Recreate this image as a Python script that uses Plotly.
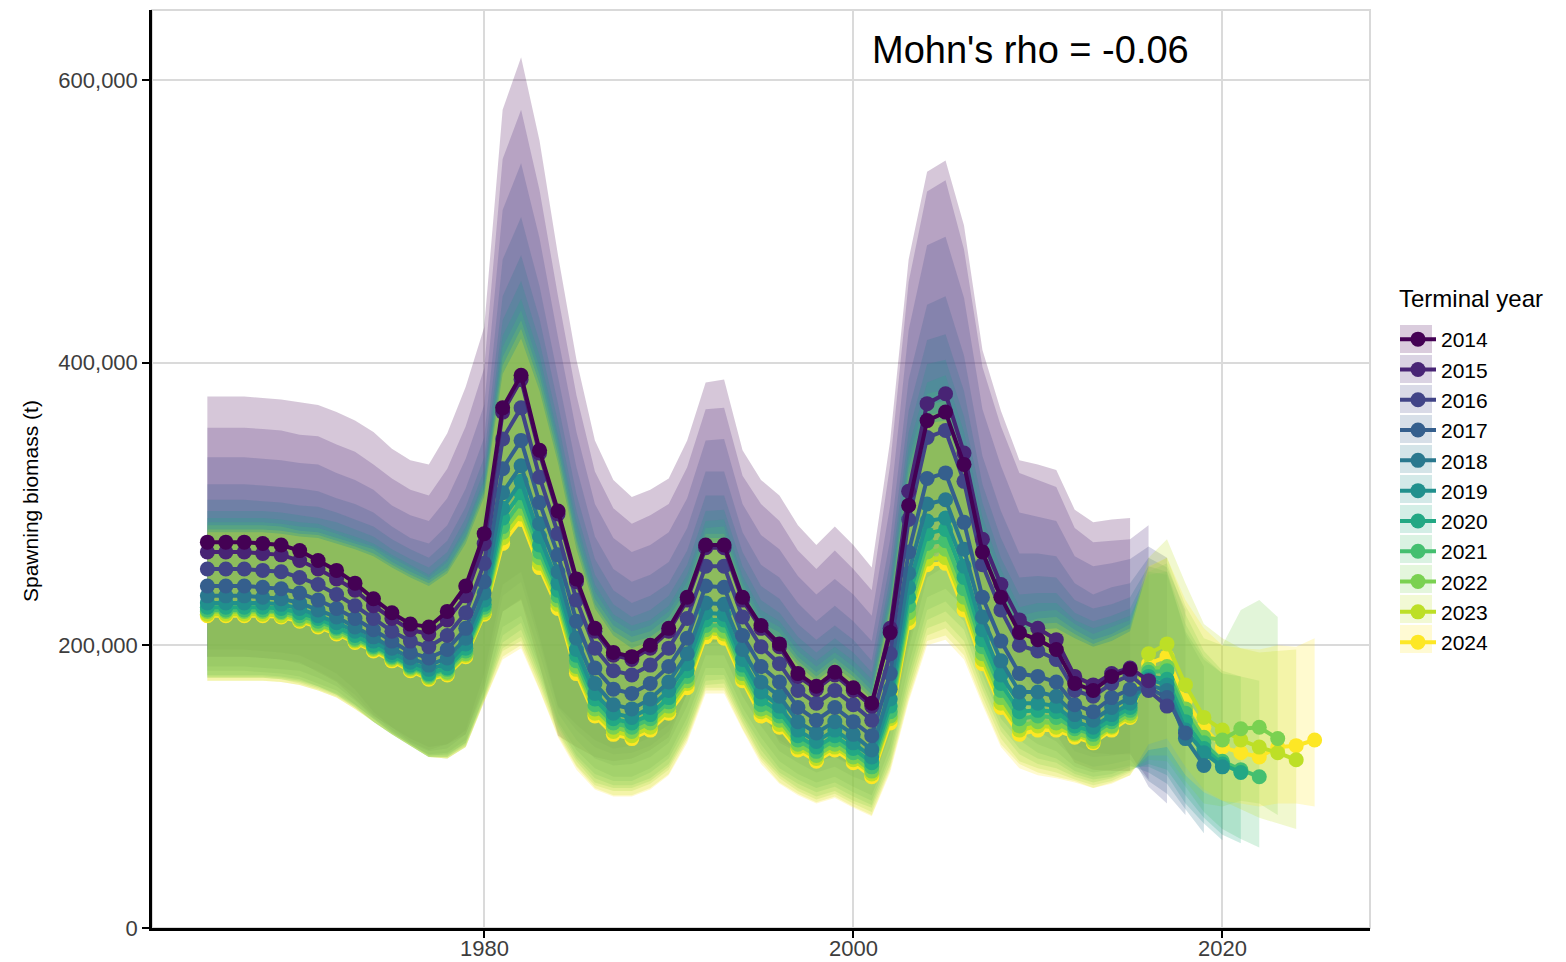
import plotly.graph_objects as go

# ---------------- data (spawning biomass, thousand tonnes) ----------------
first_year = 1965
terminal_years = [2014, 2015, 2016, 2017, 2018, 2019, 2020, 2021, 2022, 2023, 2024]
mohns_rho = -0.06

ssb_2014 = [273,273,273,272,271,267,260,253,244,233,223,215,213,224,242,279,368,391,338,295,
            247,212,195,192,200,212,234,271,271,234,214,201,180,171,181,170,159,209,299,359,
            365,328,266,234,209,204,197,173,168,178,183]
hi_2014 = [376,376,376,375,374,372,370,365,359,351,339,331,328,350,383,425,579,616,557,476,
           402,345,317,305,310,318,345,386,388,338,317,306,285,271,284,271,255,345,473,535,
           543,497,409,366,331,328,324,296,287,289,290]
lo_2014 = [192,192,192,191,190,188,181,174,162,150,142,134,128,130,137,170,224,232,186,136,
           128,121,118,120,126,135,166,201,203,173,154,131,124,118,121,114,110,148,201,259,
           270,267,215,185,167,148,137,117,112,111,111]

ssb_2015 = [266,266,266,265,264,260,254,247,239,228,219,211,208,218,235,272,365,388,336,293,
            245,210,193,190,198,210,232,269,269,232,212,199,178,169,179,168,157,212,309,371,
            378,336,275,243,218,212,204,178,172,180,184,175]
hi_2015 = [354,354,354,353,352,349,348,342,337,328,318,310,306,325,355,396,544,579,522,447,
           377,323,297,286,292,300,326,367,368,320,300,288,267,254,267,254,239,328,457,521,
           529,480,397,355,322,317,312,283,273,274,275,285]
lo_2015 = [197,197,197,196,195,193,187,180,169,153,142,132,126,130,140,180,243,252,206,157,
           144,133,127,129,135,144,174,209,211,180,161,139,130,124,128,120,115,160,226,286,
           298,284,232,201,182,164,153,130,124,123,123,105]

ssb_2016 = [254,254,254,253,252,248,243,236,228,219,210,203,199,207,223,258,346,368,319,279,
            232,198,182,179,186,198,219,256,256,220,199,187,168,159,168,158,147,194,289,347,
            352,316,257,225,200,196,190,168,164,173,179,168,157]
hi_2016 = [333,333,333,332,331,329,328,322,317,310,299,292,288,304,332,370,508,541,488,418,
           351,300,276,266,271,280,304,345,346,300,278,268,249,236,247,236,221,299,423,483,
           489,446,367,327,294,291,288,263,256,258,261,270,262]
lo_2016 = [192,192,192,191,190,187,182,175,165,151,140,131,125,127,137,174,235,245,202,156,
           140,128,123,124,129,139,166,202,203,173,153,133,125,118,122,115,109,147,213,270,
           279,269,218,187,168,153,144,125,121,122,124,100,88]

ssb_2017 = [242,242,242,241,240,237,232,226,219,211,203,195,191,197,212,245,325,345,301,264,
            217,184,169,166,173,185,205,242,241,207,185,174,156,147,156,146,136,180,266,318,
            322,287,234,203,180,178,174,158,153,163,169,170,163,138]
hi_2017 = [314,314,314,313,312,311,309,304,300,294,284,276,272,285,311,347,473,503,454,391,
           326,277,254,245,250,259,283,323,323,280,257,248,230,217,228,217,203,275,388,441,
           447,405,334,295,265,265,263,244,236,241,244,262,255,225]
lo_2017 = [185,185,185,184,183,182,177,171,161,149,139,130,123,124,133,169,224,233,194,152,
           133,120,115,116,121,131,157,193,193,164,143,125,117,110,114,107,102,137,197,248,
           256,244,198,169,150,139,132,119,114,116,119,104,95,80]

ssb_2018 = [235,235,235,234,233,230,225,220,213,206,198,191,186,191,205,237,308,327,286,252,
            205,173,158,155,162,174,194,230,229,197,174,164,146,138,146,137,126,169,251,300,
            303,268,220,189,167,167,164,151,147,156,163,172,168,134,115]
hi_2018 = [303,303,303,302,301,299,298,294,289,284,275,268,262,274,298,333,447,476,431,371,
           307,261,239,230,235,244,267,306,306,266,242,233,215,204,214,204,189,259,366,416,
           420,380,314,276,248,249,248,232,226,229,234,256,252,208,185]
lo_2018 = [182,182,182,181,180,178,173,168,158,148,138,130,122,123,131,165,213,221,185,146,
           126,113,107,107,113,123,149,184,184,156,135,118,109,103,107,100,94,128,186,234,
           240,227,186,157,139,130,125,114,110,112,115,110,102,84,67]

ssb_2019 = [230,230,230,230,229,226,221,216,210,203,195,188,183,187,201,232,297,316,277,244,
            197,166,152,149,156,168,187,223,222,190,167,157,140,132,140,131,121,162,241,288,
            290,256,211,179,159,159,157,146,142,151,159,176,172,140,124,114]
hi_2019 = [295,295,295,295,294,292,290,287,282,277,268,261,255,266,290,324,430,458,415,358,
           295,250,229,220,225,235,257,295,296,256,232,223,206,195,205,195,181,248,351,399,
           402,362,301,262,236,237,237,223,217,221,226,252,250,210,190,180]
lo_2019 = [179,179,179,179,178,176,171,166,158,148,138,130,122,122,131,164,207,216,181,144,
           122,109,104,104,110,120,144,179,179,151,130,113,105,99,103,96,90,123,179,225,
           231,217,179,148,133,124,120,111,107,109,114,114,108,88,74,62]

ssb_2020 = [227,227,227,227,226,223,219,213,207,200,193,186,180,184,198,229,290,308,271,239,
            193,162,148,145,151,163,182,218,218,186,162,153,136,128,136,127,117,157,234,279,
            282,248,204,173,153,154,153,143,139,148,156,178,176,146,127,116,110]
hi_2020 = [290,290,290,290,289,287,286,281,277,272,264,257,250,261,284,318,419,445,405,349,
           288,243,222,214,218,228,250,288,289,249,225,217,200,189,199,189,176,240,340,386,
           391,351,291,254,227,230,230,218,212,216,221,250,252,215,192,180,178]
lo_2020 = [178,178,178,178,177,175,171,165,157,146,137,129,121,121,130,163,202,211,178,142,
           120,106,101,101,106,116,140,175,176,149,126,110,102,96,100,93,87,120,174,218,
           224,211,173,143,127,120,117,109,105,107,112,116,112,94,78,66,60]

ssb_2021 = [225,225,225,225,224,221,217,212,205,199,192,185,179,183,196,227,284,302,266,235,
            189,158,145,142,148,160,178,214,214,183,158,150,133,125,133,124,114,153,228,272,
            274,240,199,168,148,150,149,141,137,146,154,181,182,152,131,118,112,107]
hi_2021 = [287,287,287,287,286,284,283,279,274,270,262,255,248,259,281,315,411,437,397,344,
           282,238,218,210,214,224,245,283,284,245,220,213,196,185,195,185,172,235,332,378,
           381,341,285,247,221,224,225,215,208,213,218,252,258,222,196,182,178,175]
lo_2021 = [177,177,177,177,176,174,170,165,156,146,137,129,121,121,129,162,198,206,175,139,
           118,103,99,99,104,114,137,172,173,146,122,108,99,93,97,90,85,116,169,212,
           217,203,169,139,123,116,113,107,103,106,111,119,118,100,82,70,63,57]

ssb_2022 = [224,224,224,224,223,219,215,210,204,198,191,184,178,181,194,225,280,297,262,232,
            185,155,142,139,145,157,175,211,210,180,155,147,130,122,130,121,111,150,223,266,
            268,234,194,163,143,146,145,138,134,143,152,183,185,155,135,133,141,142,134]
hi_2022 = [285,285,285,285,284,281,280,276,272,268,259,252,246,255,277,311,404,430,391,339,
           276,233,214,206,210,220,240,279,279,241,216,209,192,181,191,181,168,230,326,370,
           373,334,278,241,215,219,220,211,204,208,215,255,262,228,205,200,225,232,220]
lo_2022 = [177,177,177,177,176,173,169,164,156,146,137,129,121,120,128,161,196,203,172,138,
           115,101,97,97,102,112,135,170,170,144,120,106,97,91,95,88,82,114,165,207,
           212,198,164,134,118,113,110,105,101,104,110,122,122,104,88,86,90,88,80]

ssb_2023 = [222,222,222,222,221,218,214,209,203,197,190,183,177,180,193,223,276,293,258,229,
            183,152,139,136,142,154,173,209,208,177,153,144,128,120,128,119,109,148,219,261,
            262,229,190,159,140,143,142,137,132,142,150,194,201,172,149,140,133,128,124,119]
hi_2023 = [282,282,282,282,281,279,278,274,270,265,257,250,244,253,275,308,398,424,385,334,
           273,229,210,202,206,215,237,276,276,237,213,205,189,178,188,178,165,227,320,363,
           365,327,273,236,211,215,216,208,201,206,212,262,275,244,215,205,198,195,196,197]
lo_2023 = [175,175,175,175,174,172,168,163,155,146,137,129,121,120,128,160,192,200,169,136,
           114,99,94,94,99,109,133,168,168,141,118,103,95,89,93,86,80,112,162,203,
           207,193,160,130,116,110,107,104,99,103,108,130,134,114,98,90,84,78,74,70]

ssb_2024 = [221,221,221,221,220,217,213,208,202,196,189,182,176,179,192,222,272,289,255,226,
            180,150,137,134,140,152,170,206,205,175,150,142,126,118,126,117,107,145,216,257,
            258,225,187,156,137,140,140,135,131,140,149,187,192,161,142,128,124,121,128,129,133]
hi_2024 = [280,280,280,280,279,277,276,272,268,263,255,248,242,251,272,305,392,417,380,329,
           268,226,207,198,203,212,233,272,272,234,209,202,186,175,185,175,162,223,315,357,
           359,321,269,231,207,211,212,205,199,203,210,256,262,232,212,200,198,197,200,199,205]
lo_2024 = [175,175,175,175,174,172,168,163,155,146,137,129,121,120,128,160,190,198,168,135,
           112,98,93,93,98,108,131,166,166,140,116,102,94,88,92,85,79,110,160,200,
           204,190,158,128,113,108,106,103,99,102,108,126,128,108,96,90,88,86,88,88,86]

ssb = {2014: ssb_2014, 2015: ssb_2015, 2016: ssb_2016, 2017: ssb_2017, 2018: ssb_2018,
       2019: ssb_2019, 2020: ssb_2020, 2021: ssb_2021, 2022: ssb_2022, 2023: ssb_2023,
       2024: ssb_2024}
hi = {2014: hi_2014, 2015: hi_2015, 2016: hi_2016, 2017: hi_2017, 2018: hi_2018,
      2019: hi_2019, 2020: hi_2020, 2021: hi_2021, 2022: hi_2022, 2023: hi_2023,
      2024: hi_2024}
lo = {2014: lo_2014, 2015: lo_2015, 2016: lo_2016, 2017: lo_2017, 2018: lo_2018,
      2019: lo_2019, 2020: lo_2020, 2021: lo_2021, 2022: lo_2022, 2023: lo_2023,
      2024: lo_2024}

x_ticks = [1980, 2000, 2020]
y_ticks = [0, 200000, 400000, 600000]

# ---------------- styles ----------------
colors = ["#440154", "#482475", "#414487", "#355F8D", "#2A788E", "#21908D",
          "#22A884", "#44BF70", "#7AD151", "#BDDF26", "#FDE725"]
FONT = "Liberation Sans, Arial, Helvetica, sans-serif"
W, H = 1566, 962
ML, MR, MT, MB = 152, 196, 10, 34
PW, PH = W - ML - MR, H - MT - MB


def rgba(hex_color, a):
    h = hex_color.lstrip("#")
    r, g, b = int(h[0:2], 16), int(h[2:4], 16), int(h[4:6], 16)
    return f"rgba({r},{g},{b},{a})"


def px_x(px):  # pixel -> paper x
    return (px - ML) / PW


def px_y(py):  # pixel -> paper y
    return (H - MB - py) / PH


fig = go.Figure()

# ribbons (confidence intervals)
for ty, col in zip(terminal_years, colors):
    n = len(ssb[ty])
    yrs = list(range(first_year, first_year + n))
    up = [v * 1000 for v in hi[ty]]
    dn = [v * 1000 for v in lo[ty]]
    fig.add_trace(go.Scatter(
        x=yrs + yrs[::-1], y=up + dn[::-1],
        fill="toself", fillcolor=rgba(col, 0.22),
        mode="lines", line=dict(width=0, color=rgba(col, 0)),
        hoverinfo="skip", showlegend=False))

# lines + points (latest drawn first, earliest on top)
for ty, col in reversed(list(zip(terminal_years, colors))):
    n = len(ssb[ty])
    yrs = list(range(first_year, first_year + n))
    fig.add_trace(go.Scatter(
        x=yrs, y=[v * 1000 for v in ssb[ty]],
        mode="lines+markers", name=str(ty), legendrank=ty - 2000,
        line=dict(color=col, width=4),
        marker=dict(color=col, size=15, line=dict(width=0))))

fig.add_annotation(
    x=2009.6, y=621000, xref="x", yref="y",
    text=f"Mohn's rho = {mohns_rho:.2f}", showarrow=False,
    font=dict(family=FONT, size=38, color="black"),
    xanchor="center", yanchor="middle")

# x tick labels (placed as text just below the axis)
for xv in x_ticks:
    fig.add_annotation(
        x=xv, y=px_y(948), xref="x", yref="paper",
        text=str(xv), showarrow=False,
        font=dict(family=FONT, size=22, color="#3d3d3d"),
        xanchor="center", yanchor="middle")

# y-axis title
fig.add_annotation(
    x=px_x(30), y=px_y(501), xref="paper", yref="paper",
    text="Spawning biomass (t)", textangle=-90, showarrow=False,
    font=dict(family=FONT, size=21, color="black"),
    xanchor="center", yanchor="middle")

# legend title
fig.add_annotation(
    x=px_x(1397), y=px_y(298), xref="paper", yref="paper",
    text="Terminal year", showarrow=False,
    font=dict(family=FONT, size=24, color="black"),
    xanchor="left", yanchor="middle")

# legend key backgrounds
for k, col in enumerate(colors):
    yc = 339 + 30 * k
    fig.add_shape(type="rect", xref="paper", yref="paper",
                  x0=px_x(1400), x1=px_x(1432), y0=px_y(yc + 14), y1=px_y(yc - 14),
                  fillcolor=rgba(col, 0.2), line=dict(width=0), layer="below")

# grey panel border (top & right)
fig.add_shape(type="rect", xref="paper", yref="paper", x0=0, y0=0, x1=1, y1=1,
              line=dict(color="#d9d9d9", width=2), layer="below")

axis_common = dict(
    showgrid=True, gridcolor="#dadada", gridwidth=2,
    showline=True, linecolor="black", linewidth=2.5,
    ticks="outside", ticklen=7, tickwidth=2, tickcolor="black",
    tickfont=dict(family=FONT, size=22, color="#3d3d3d"),
    zeroline=False, automargin=False)

fig.update_layout(
    width=W, height=H,
    margin=dict(l=ML, r=MR, t=MT, b=MB, autoexpand=False),
    paper_bgcolor="white", plot_bgcolor="white",
    font=dict(family=FONT, color="black"),
    xaxis=dict(range=[1962, 2028], tickvals=x_ticks, showticklabels=False, **axis_common),
    yaxis=dict(range=[0, 649500], tickvals=y_ticks, tickformat=",", **axis_common),
    legend=dict(
        font=dict(family=FONT, size=21, color="black"),
        x=px_x(1395), xanchor="left", y=px_y(319), yanchor="top",
        bgcolor="rgba(0,0,0,0)", itemwidth=36, tracegroupgap=0),
    showlegend=True,
)

fig.write_html("out.html")
